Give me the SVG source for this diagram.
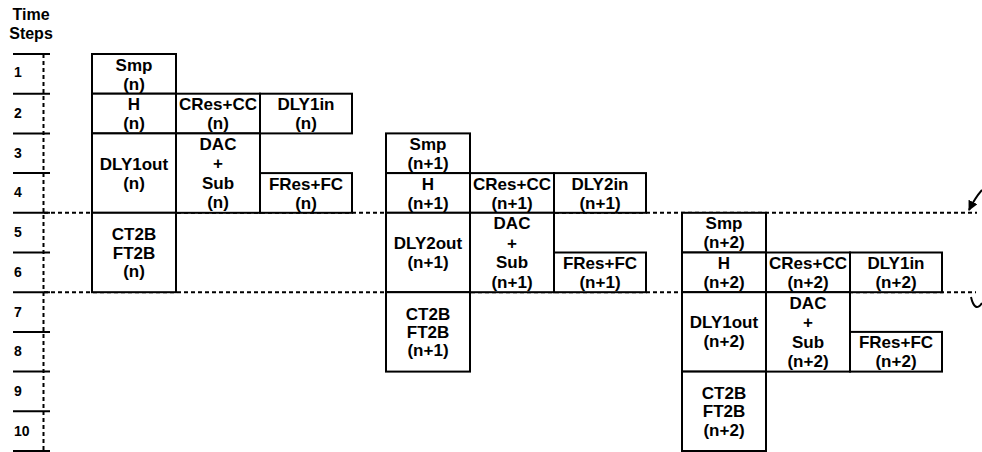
<svg xmlns="http://www.w3.org/2000/svg" width="982" height="452" viewBox="0 0 982 452">
<style>
.bg{fill:#fff}
.box{fill:#fff;stroke:#000;stroke-width:2}
.t{font-family:"Liberation Sans",Arial,sans-serif;font-weight:bold;font-size:17px;text-anchor:middle;fill:#000}
.num{font-family:"Liberation Sans",Arial,sans-serif;font-weight:bold;font-size:14px;fill:#000}
.hd{font-family:"Liberation Sans",Arial,sans-serif;font-weight:bold;font-size:16px;text-anchor:middle;fill:#000}
.tick{stroke:#000;stroke-width:2}
.dash{stroke:#000;stroke-width:2;stroke-dasharray:4,3;fill:none}
.curve{stroke:#000;stroke-width:2;fill:none}
</style>
<defs>
<marker id="ah" viewBox="0 0 10 10" refX="9" refY="5" markerWidth="5" markerHeight="5" orient="auto" markerUnits="strokeWidth">
<path d="M0,0 L10,5 L0,10 z" fill="#000"/>
</marker>
</defs>
<rect class="bg" x="0" y="0" width="982" height="452"/>

<g id="axis">
<text class="hd" x="31" y="20">Time</text>
<text class="hd" x="31" y="39">Steps</text>
<line class="dash" x1="43.5" y1="54" x2="43.5" y2="452"/>
<line class="tick" x1="13" y1="54" x2="50" y2="54"/>
<line class="tick" x1="13" y1="93.7" x2="50" y2="93.7"/>
<line class="tick" x1="13" y1="133.4" x2="50" y2="133.4"/>
<line class="tick" x1="13" y1="173.1" x2="50" y2="173.1"/>
<line class="tick" x1="13" y1="212.8" x2="50" y2="212.8"/>
<line class="tick" x1="13" y1="252.5" x2="50" y2="252.5"/>
<line class="tick" x1="13" y1="292.2" x2="50" y2="292.2"/>
<line class="tick" x1="13" y1="331.9" x2="50" y2="331.9"/>
<line class="tick" x1="13" y1="371.6" x2="50" y2="371.6"/>
<line class="tick" x1="13" y1="411.3" x2="50" y2="411.3"/>
<line class="tick" x1="13" y1="451" x2="50" y2="451"/>
<text class="num" x="14" y="77">1</text>
<text class="num" x="14" y="117.5">2</text>
<text class="num" x="14" y="157.5">3</text>
<text class="num" x="14" y="197">4</text>
<text class="num" x="14" y="237">5</text>
<text class="num" x="14" y="276.5">6</text>
<text class="num" x="14" y="316.5">7</text>
<text class="num" x="14" y="356">8</text>
<text class="num" x="14" y="396">9</text>
<text class="num" x="14" y="436">10</text>
</g>

<g id="connectors">
<line class="dash" x1="44" y1="212.8" x2="977" y2="212.8"/>
<line class="dash" x1="44" y1="292.2" x2="976" y2="292.2"/>
<path class="curve" d="M982,190 Q975,198 969,210" marker-end="url(#ah)"/>
<path class="curve" d="M971,297 C973,306 977,311 982,303"/>
</g>

<g id="smp_n"><rect class="box" x="92" y="54" width="84" height="39.7"/><text class="t" x="134" y="70.5">Smp</text><text class="t" x="134" y="89.5">(n)</text></g>
<g id="h_n"><rect class="box" x="92" y="93.7" width="84" height="39.7"/><text class="t" x="134" y="110.2">H</text><text class="t" x="134" y="129.2">(n)</text></g>
<g id="cres_n"><rect class="box" x="176" y="93.7" width="84" height="39.7"/><text class="t" x="218" y="110.2">CRes+CC</text><text class="t" x="218" y="129.2">(n)</text></g>
<g id="dly1in_n"><rect class="box" x="260" y="93.7" width="92" height="39.7"/><text class="t" x="306" y="110.2">DLY1in</text><text class="t" x="306" y="129.2">(n)</text></g>
<g id="dly1out_n"><rect class="box" x="92" y="133.4" width="84" height="79.4"/><text class="t" x="134" y="169.6">DLY1out</text><text class="t" x="134" y="188.6">(n)</text></g>
<g id="dac_n"><rect class="box" x="176" y="133.4" width="84" height="79.4"/><text class="t" x="218" y="150">DAC</text><text class="t" x="218" y="169.4">+</text><text class="t" x="218" y="188.8">Sub</text><text class="t" x="218" y="208.2">(n)</text></g>
<g id="fres_n"><rect class="box" x="260" y="173.1" width="92" height="39.7"/><text class="t" x="306" y="189.6">FRes+FC</text><text class="t" x="306" y="208.6">(n)</text></g>
<g id="ct2b_n"><rect class="box" x="92" y="212.8" width="84" height="79.4"/><text class="t" x="134" y="240.2">CT2B</text><text class="t" x="134" y="258.5">FT2B</text><text class="t" x="134" y="276.8">(n)</text></g>

<g id="smp_n1"><rect class="box" x="386" y="133.4" width="84" height="39.7"/><text class="t" x="428" y="149.9">Smp</text><text class="t" x="428" y="168.9">(n+1)</text></g>
<g id="h_n1"><rect class="box" x="386" y="173.1" width="84" height="39.7"/><text class="t" x="428" y="189.6">H</text><text class="t" x="428" y="208.6">(n+1)</text></g>
<g id="cres_n1"><rect class="box" x="470" y="173.1" width="84" height="39.7"/><text class="t" x="512" y="189.6">CRes+CC</text><text class="t" x="512" y="208.6">(n+1)</text></g>
<g id="dly2in_n1"><rect class="box" x="554" y="173.1" width="92" height="39.7"/><text class="t" x="600" y="189.6">DLY2in</text><text class="t" x="600" y="208.6">(n+1)</text></g>
<g id="dly2out_n1"><rect class="box" x="386" y="212.8" width="84" height="79.4"/><text class="t" x="428" y="249">DLY2out</text><text class="t" x="428" y="268">(n+1)</text></g>
<g id="dac_n1"><rect class="box" x="470" y="212.8" width="84" height="79.4"/><text class="t" x="512" y="229.4">DAC</text><text class="t" x="512" y="248.8">+</text><text class="t" x="512" y="268.2">Sub</text><text class="t" x="512" y="287.6">(n+1)</text></g>
<g id="fres_n1"><rect class="box" x="554" y="252.5" width="92" height="39.7"/><text class="t" x="600" y="269">FRes+FC</text><text class="t" x="600" y="288">(n+1)</text></g>
<g id="ct2b_n1"><rect class="box" x="386" y="292.2" width="84" height="79.4"/><text class="t" x="428" y="319.6">CT2B</text><text class="t" x="428" y="337.9">FT2B</text><text class="t" x="428" y="356.2">(n+1)</text></g>

<g id="smp_n2"><rect class="box" x="682" y="212.8" width="84" height="39.7"/><text class="t" x="724" y="229.3">Smp</text><text class="t" x="724" y="248.3">(n+2)</text></g>
<g id="h_n2"><rect class="box" x="682" y="252.5" width="84" height="39.7"/><text class="t" x="724" y="269">H</text><text class="t" x="724" y="288">(n+2)</text></g>
<g id="cres_n2"><rect class="box" x="766" y="252.5" width="84" height="39.7"/><text class="t" x="808" y="269">CRes+CC</text><text class="t" x="808" y="288">(n+2)</text></g>
<g id="dly1in_n2"><rect class="box" x="850" y="252.5" width="92" height="39.7"/><text class="t" x="896" y="269">DLY1in</text><text class="t" x="896" y="288">(n+2)</text></g>
<g id="dly1out_n2"><rect class="box" x="682" y="292.2" width="84" height="79.4"/><text class="t" x="724" y="328.4">DLY1out</text><text class="t" x="724" y="347.4">(n+2)</text></g>
<g id="dac_n2"><rect class="box" x="766" y="292.2" width="84" height="79.4"/><text class="t" x="808" y="308.8">DAC</text><text class="t" x="808" y="328.2">+</text><text class="t" x="808" y="347.6">Sub</text><text class="t" x="808" y="367">(n+2)</text></g>
<g id="fres_n2"><rect class="box" x="850" y="331.9" width="92" height="39.7"/><text class="t" x="896" y="348.4">FRes+FC</text><text class="t" x="896" y="367.4">(n+2)</text></g>
<g id="ct2b_n2"><rect class="box" x="682" y="371.6" width="84" height="79.4"/><text class="t" x="724" y="399">CT2B</text><text class="t" x="724" y="417.3">FT2B</text><text class="t" x="724" y="435.6">(n+2)</text></g>
</svg>
